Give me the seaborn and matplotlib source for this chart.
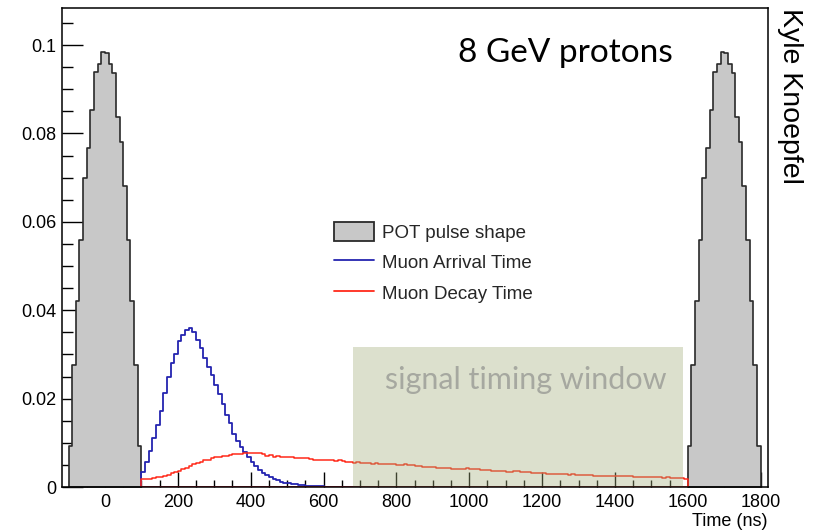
import numpy as np
import pandas as pd
import matplotlib
matplotlib.use("Agg")
import matplotlib.pyplot as plt
import seaborn as sns
from matplotlib.patches import Patch, Rectangle
from matplotlib.lines import Line2D
from matplotlib.ticker import MultipleLocator, FuncFormatter

# ---------------- data ----------------
bin_width = 10  # ns

# POT pulse shape, 20 bins of 10 ns from -100 to 100 ns
pot_start = -100
pot_values = [0.0093, 0.0276, 0.0420, 0.0558, 0.0699, 0.0767, 0.0853, 0.0940, 0.0957, 0.0985,
              0.0982, 0.0957, 0.0936, 0.0838, 0.0781, 0.0682, 0.0559, 0.0420, 0.0276, 0.0093]
pulse_offsets = [0, 1700]

# Muon arrival time, 10 ns bins starting at 100 ns
arrival_start = 100
arrival_values = [0.0035, 0.0057, 0.0081, 0.0112, 0.0140, 0.0172, 0.0212, 0.0250, 0.0280, 0.0300,
                  0.0330, 0.0344, 0.0355, 0.0359, 0.0351, 0.0333, 0.0315, 0.0293, 0.0272, 0.0253,
                  0.0231, 0.0210, 0.0187, 0.0164, 0.0144, 0.0121, 0.0103, 0.0091, 0.0080, 0.0068,
                  0.0056, 0.0047, 0.0039, 0.0032, 0.0027, 0.0022, 0.0018, 0.0015, 0.0012, 0.0010,
                  0.0008, 0.0007, 0.0006, 0.0005, 0.0004, 0.0003, 0.0003, 0.0002, 0.0002, 0.00015,
                  0.0001, 0.0001, 0.0001, 0.00007, 0.00005, 0.00004, 0.00003, 0.00002, 0.00001, 0.00001]

# Muon decay time, 10 ns bins from 100 to 1600 ns
decay_start = 100
decay_values = [0.0017, 0.0018, 0.0019, 0.0021, 0.0022, 0.0023, 0.0026, 0.0028, 0.0031, 0.0034,
                0.0036, 0.0040, 0.0044, 0.0048, 0.0052, 0.0054, 0.0057, 0.0060, 0.0062, 0.0065,
                0.0067, 0.0068, 0.0071, 0.0070, 0.0073, 0.0074, 0.0075, 0.0075, 0.0077, 0.0078,
                0.0077, 0.0076, 0.0078, 0.0074, 0.0071, 0.0072, 0.0069, 0.0070, 0.0068, 0.0069,
                0.0067, 0.0068, 0.0066, 0.0065, 0.0066, 0.0065, 0.0063, 0.0061, 0.0062, 0.0061,
                0.0062, 0.0061, 0.0060, 0.0059, 0.0060, 0.0059, 0.0057, 0.0056, 0.0055, 0.0056,
                0.0055, 0.0055, 0.0054, 0.0053, 0.0054, 0.0053, 0.0052, 0.0052, 0.0051, 0.0052,
                0.0050, 0.0050, 0.0051, 0.0049, 0.0050, 0.0048, 0.0047, 0.0046, 0.0046, 0.0045,
                0.0045, 0.0044, 0.0044, 0.0043, 0.0042, 0.0041, 0.0040, 0.0040, 0.0041, 0.0042,
                0.0041, 0.0041, 0.0040, 0.0039, 0.0038, 0.0038, 0.0037, 0.0037, 0.0036, 0.0036,
                0.0035, 0.0035, 0.0036, 0.0036, 0.0035, 0.0034, 0.0033, 0.0032, 0.0032, 0.0031,
                0.0031, 0.0030, 0.0030, 0.0029, 0.0029, 0.0029, 0.0029, 0.0028, 0.0029, 0.0028,
                0.0028, 0.0027, 0.0027, 0.0027, 0.0026, 0.0026, 0.0026, 0.0026, 0.0025, 0.0025,
                0.0025, 0.0024, 0.0025, 0.0024, 0.0024, 0.0023, 0.0023, 0.0023, 0.0023, 0.0022,
                0.0023, 0.0022, 0.0022, 0.0021, 0.0022, 0.0021, 0.0021, 0.0020, 0.0020, 0.0018]

# signal timing window (ns) and its drawn height
window_start, window_end, window_height = 680, 1588, 0.0317

x_ticks = [0, 200, 400, 600, 800, 1000, 1200, 1400, 1600, 1800]
y_ticks = [0, 0.02, 0.04, 0.06, 0.08, 0.1]

labels = ["POT pulse shape", "Muon Arrival Time", "Muon Decay Time"]

# ---------------- style ----------------
sns.set_style("ticks")
plt.rcParams["font.family"] = ["Liberation Sans", "DejaVu Sans"]

W, H = 813, 530
fig = plt.figure(figsize=(W / 100, H / 100), dpi=100)
ax = fig.add_axes([62 / W, 1 - 487 / H, (768 - 62) / W, (487 - 8) / H])

pot_color = "#c8c8c8"
pot_edge = "#2a2a2a"
blue = "#2424b0"
red = "#ff2a1a"


def hist_frame(start, values, offset=0):
    n = len(values)
    edges = [float(start + offset + bin_width * i) for i in range(n + 1)]
    df = pd.DataFrame({"t": [e + bin_width / 2 for e in edges[:-1]],
                       "w": [float(x) for x in values]})
    return df, edges


for off in pulse_offsets:
    df, e = hist_frame(pot_start, pot_values, off)
    sns.histplot(data=df, x="t", weights="w", bins=e, element="step", fill=True,
                 color=pot_color, alpha=1, edgecolor=pot_edge, linewidth=1.2, ax=ax)

df, e = hist_frame(arrival_start, arrival_values)
sns.histplot(data=df, x="t", weights="w", bins=e, element="step", fill=True, color=blue,
             facecolor="none", edgecolor=blue, linewidth=1.3, ax=ax)

df, e = hist_frame(decay_start, decay_values)
sns.histplot(data=df, x="t", weights="w", bins=e, element="step", fill=True, color=red,
             facecolor="none", edgecolor=red, linewidth=1.1, ax=ax)

# signal timing window box
ax.add_patch(Rectangle((window_start, 0), window_end - window_start, window_height,
                       facecolor="#a4b07c", alpha=0.38, edgecolor="none", zorder=2))
ax.text((window_start + window_end) / 2 + 20, 0.0242, "signal timing window",
        ha="center", va="center", fontsize=22, color="#a6a8a0",
        family=["Lato", "DejaVu Sans"], zorder=3)

ax.set_xlim(-118, 1820)
ax.set_ylim(0, 0.1084)
ax.set_xticks(x_ticks)
ax.set_yticks(y_ticks)
ax.xaxis.set_minor_locator(MultipleLocator(50))
ax.yaxis.set_minor_locator(MultipleLocator(0.005))
ax.yaxis.set_major_formatter(FuncFormatter(lambda v, p: f"{v:g}"))
ax.tick_params(axis="both", which="both", direction="in", colors="black",
               labelsize=13, width=1.0)
ax.tick_params(axis="y", which="major", length=15, pad=4)
ax.tick_params(axis="y", which="minor", length=8)
ax.tick_params(axis="x", which="major", length=10.5, pad=5)
ax.tick_params(axis="x", which="minor", length=5)
ax.set_xlabel("")
ax.set_ylabel("")
for s in ax.spines.values():
    s.set_visible(True)
    s.set_color("black")
    s.set_linewidth(1.1)
    s.set_zorder(5)

# legend
handles = [Patch(facecolor=pot_color, edgecolor=pot_edge, linewidth=1.3),
           Line2D([], [], color=blue, linewidth=1.3),
           Line2D([], [], color=red, linewidth=1.3)]
ax.legend(handles, labels, loc="upper left", bbox_to_anchor=(334 / W, 1 - 222 / H),
          bbox_transform=fig.transFigure, frameon=False, fontsize=13.5,
          handlelength=2.15, handleheight=1.2, handletextpad=0.4,
          labelspacing=0.56, borderpad=0, borderaxespad=0)

# annotations
fig.text(673 / W, 1 - 53 / H, "8 GeV protons", ha="right", va="center",
         fontsize=24, color="black", family=["Lato", "DejaVu Sans"])
fig.text(790 / W, 1 - 8 / H, "Kyle Knoepfel", ha="center", va="top",
         rotation=-90, fontsize=20.5, color="black")
fig.text(767 / W, 1 - 521 / H, "Time (ns)", ha="right", va="center",
         fontsize=13, color="black")

fig.savefig("out.png", dpi=100)
